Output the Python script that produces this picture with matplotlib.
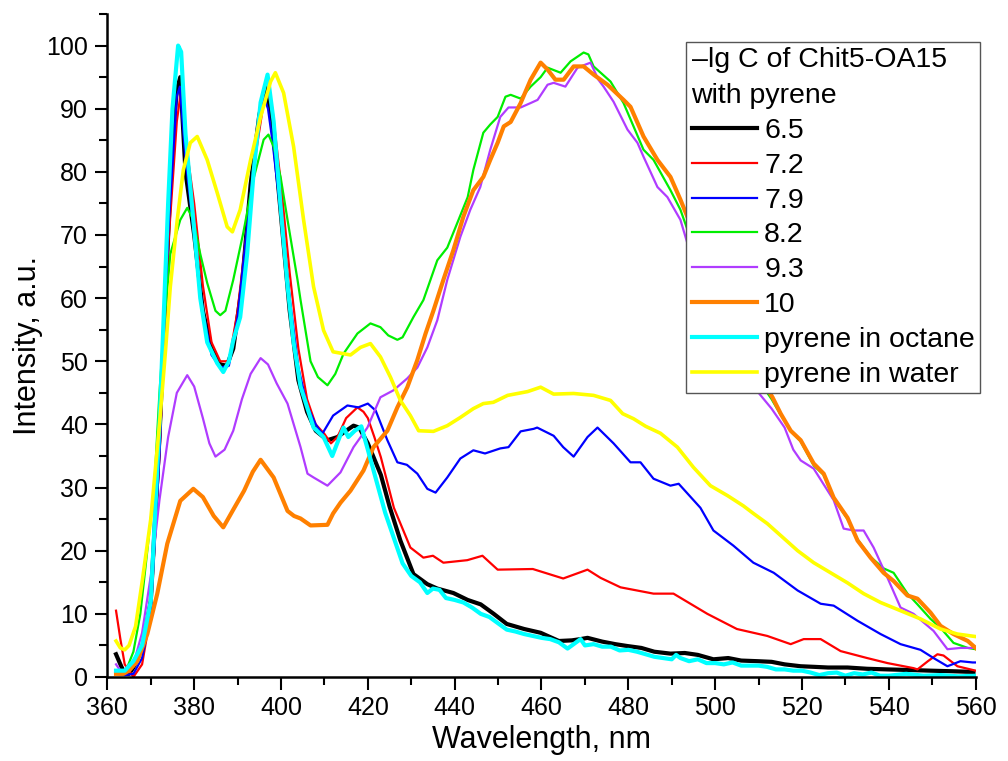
import matplotlib
matplotlib.use('Agg')
import matplotlib.pyplot as plt
from matplotlib.ticker import MultipleLocator

plt.rcParams['font.family'] = ['Liberation Sans', 'DejaVu Sans']

# -lg C = 6.5
wl_65 = [362, 363, 364, 365, 366, 368, 370, 372, 374, 375, 376, 376.8, 378, 380, 382, 384, 386, 387.5,
         389, 391, 393, 395, 396.5, 398, 400, 402, 404, 406, 408, 410.7, 413, 415, 416.7, 418, 420, 423,
         425, 427.5, 430.5, 433.7, 436, 439.7, 443, 446, 449, 452, 456, 459.8, 464, 467, 469, 470.6, 474,
         477, 479.8, 483, 486, 489.7, 493, 496, 499.6, 503, 506, 509.8, 513, 516, 519.7, 523, 526, 530.5,
         535, 539.7, 545, 549.6, 555, 559.5]
int_65 = [3.6, 2.0, 0.5, 0.5, 1.5, 4.5, 12, 38, 70, 85, 93, 95, 80, 70, 58, 52, 49.5, 49.3,
          52, 62, 78, 89, 93.5, 88, 73, 58, 47, 42, 39, 37.5, 38, 39, 39.8, 39.5, 37, 32,
          27, 21.6, 16.3, 14.7, 14, 13.3, 12.2, 11.5, 10, 8.4, 7.6, 7.0, 5.7, 5.8, 6.0, 6.2, 5.6,
          5.2, 4.9, 4.6, 4.0, 3.7, 3.8, 3.5, 2.8, 3.0, 2.6, 2.5, 2.4, 2.0, 1.7, 1.6, 1.5, 1.5,
          1.3, 1.2, 1.1, 1.0, 0.9, 0.8]

# -lg C = 7.2
wl_72 = [362, 363, 364, 366, 368, 370, 372, 374, 376, 377, 378, 380, 382, 384, 386, 388, 390, 392, 394,
         396, 397, 398, 400, 402, 404, 406, 408, 410, 411.5, 413, 415, 417.6, 419, 420, 421.5, 423, 426,
         429.8, 432.8, 435, 437.4, 442.9, 446.4, 449.9, 458, 465, 470.6, 473.6, 478.2, 485.8, 490.4,
         498.2, 505, 512, 517.4, 520.4, 524.3, 528.9, 535, 539.7, 545.7, 546.6, 549, 551.2, 552.6, 555.8,
         558.8, 560]
int_72 = [10.5, 6.0, 2.0, 0.0, 2.0, 10, 35, 68, 88, 93, 85, 75, 62, 53, 50, 50, 58, 70, 82,
          91, 92.5, 90, 78, 64, 52, 44, 40, 38.5, 37, 38, 41, 42.7, 42, 41, 38, 34.8, 26.8,
          20.5, 18.9, 19.2, 18.1, 18.5, 19.2, 17, 17.1, 15.6, 17, 15.7, 14.2, 13.2, 13.2,
          10, 7.6, 6.5, 5.2, 6.0, 6.0, 4.1, 3.0, 2.2, 1.4, 1.2, 2.5, 3.6, 3.4, 1.7,
          1.2, 1.0]

# -lg C = 7.9
wl_79 = [362, 364, 366, 368, 370, 372, 374, 376, 376.7, 378, 380, 382, 384, 386, 388, 390, 392, 394, 396,
         397, 398, 400, 402, 404, 406, 408, 409.5, 412, 415.3, 417.8, 420, 421.8, 424.5, 426.8, 429,
         431.4, 433.7, 435.6, 438.3, 441.3, 444.3, 447, 450.5, 452.4, 455.2, 458.2, 459, 462.8, 465,
         467.4, 470.6, 472.9, 476.6, 480.5, 482.8, 485.8, 489.7, 491.6, 496.6, 499.6, 504.2, 508.8,
         513.5, 519, 524.3, 527.3, 532.8, 538.1, 542.7, 547.3, 550.3, 553.5, 556.5, 559.3, 560]
int_79 = [0.5, 0.3, 0.5, 3, 10, 35, 70, 92, 93.5, 82, 70, 58, 51, 49, 49.3, 57, 70, 83, 92,
          90, 85, 73, 60, 49, 43, 40, 38.5, 41.4, 43, 42.7, 43.3, 42.2, 37.5, 34, 33.6,
          32.2, 29.8, 29.2, 31.6, 34.6, 35.9, 35.4, 36.2, 36.4, 38.9, 39.3, 39.5, 38.2, 36.4,
          34.9, 38, 39.5, 37, 34, 34, 31.4, 30.3, 30.6, 26.8, 23.2, 20.8, 18.1,
          16.5, 13.7, 11.6, 11.3, 8.9, 6.8, 5.2, 4.3, 3.0, 1.7, 2.5, 2.3, 2.3]

# -lg C = 8.2
wl_82 = [362, 364, 366, 367.6, 369.2, 370.8, 372, 373, 374.5, 376.8, 378.4, 379.8, 381.4, 383, 384.9,
         386, 387.2, 389, 391.3, 393.6, 396, 397.1, 398.3, 399.9, 401.5, 403.8, 404.5, 406.8, 408.5,
         410.7, 412.5, 414.4, 417.6, 420.6, 422.9, 424.7, 426.8, 428, 430.5, 432.8, 436, 438.3, 440.6,
         443, 444.3, 446.6, 448.2, 449.9, 451.7, 452.9, 455.2, 457.5, 459.8, 461.4, 464.4, 466.7,
         469.7, 470.8, 472, 475.9, 478.9, 481.2, 483.5, 485.8, 489.7, 492, 493.9, 498, 502, 506, 510,
         513, 515.1, 517.4, 519.7, 522.7, 525, 527.3, 530.5, 532.8, 535.8, 538.8, 541.1, 544.3, 546.6,
         549.6, 551.9, 554.9, 558.2, 560]
int_82 = [1.0, 0.5, 4, 10, 20, 30, 45, 55, 67, 72.4, 74.3, 72.4, 67, 62.4, 58,
          57.3, 58, 62.9, 70.3, 78.7, 85.1, 85.9, 84, 79.2, 72.4, 62.9, 59.7, 50, 47.5,
          46.2, 48, 51.2, 54.4, 56, 55.4, 54.1, 53.4, 53.8, 57, 59.7, 66, 68, 71.9,
          76, 80.3, 86.2, 87.5, 88.7, 91.9, 92.2, 91.6, 93.5, 95, 96.5, 95.7, 97.5,
          98.9, 98.6, 96.7, 94.3, 90.9, 87.2, 83.5, 81.9, 77.1, 74, 70.3, 64, 58, 52, 47,
          44, 41.5, 39, 37.3, 33.5, 32, 28.3, 25, 21.8, 19, 17.2, 16.5, 13.2, 11.5,
          9.2, 7.8, 5.4, 4.6, 4.4]

# -lg C = 9.3
wl_93 = [362, 363, 364, 366, 368, 370, 372, 374, 376, 378.4, 380, 382, 383.5, 384.9, 387, 389, 391, 393,
         395.3, 397, 399, 401.5, 404.5, 406.1, 407.5, 410.7, 413.7, 416.7, 419.9, 422.9, 425.9, 429.1,
         431.4, 433.7, 436, 438.3, 441.3, 443.6, 445.9, 448.2, 450.5, 452.4, 455.2, 457.5, 459.1, 461.4,
         462.8, 465.5, 468.3, 471.3, 473.1, 474.3, 476.6, 479.8, 482.1, 483.5, 486.7, 489, 492, 493.9,
         498, 502, 506, 510, 513, 516, 518, 519.7, 522.7, 527.3, 529.6, 531.9, 534.2, 536.5, 539.7,
         542.7, 545.7, 550.3, 553.5, 556.5, 559.3, 560]
int_93 = [2.0, 1.0, 0.5, 2, 7, 16, 28, 38, 45, 47.8, 46, 41, 37, 34.9, 36, 39, 44, 48,
          50.5, 49.5, 46.5, 43.3, 36.4, 32.2, 31.6, 30.3, 32.4, 36.4, 39.5, 44.3, 45.4, 47.3,
          49, 52.2, 56.5, 62.9, 69.7, 74, 77.6, 83.5, 88.7, 90.2, 90.2, 90.9, 91.4, 93.8,
          94.1, 93.5, 96.5, 97.3, 94.6, 93.5, 91.1, 86.7, 84.6, 82.4, 77.6, 76, 72.4, 68,
          62, 56, 50, 45, 42.5, 39.5, 36, 34.3, 33, 28, 23.5, 23.2, 23.2, 20.5, 15.7,
          11, 10, 7.3, 4.4, 4.6, 4.6, 4.8]

# -lg C = 10
wl_10 = [362, 363.7, 365, 366.9, 369.2, 371.5, 373.8, 376.8, 379.8, 382, 384.5, 386.7, 389, 391.5,
         393.5, 395.3, 398.3, 401.5, 403, 404.5, 406.8, 410.7, 412, 413.7, 416, 419, 421.3, 424.5,
         426.8, 429.1, 431.4, 433.3, 435.1, 437.4, 439.7, 442, 444.3, 446.6, 448.2, 449.9, 451.3,
         452.9, 455.2, 457.5, 459.8, 461.4, 463.2, 465.1, 467.4, 469.7, 472, 475.2, 478.9, 480.5,
         483.5, 486.7, 489.7, 492, 493.9, 498, 502, 506, 510, 513.2, 515.1, 517.4, 519.7, 522.7, 525,
         527.3, 530.5, 532.8, 535.8, 538.8, 541.1, 544.3, 546.6, 549.6, 551.9, 554.9, 558.2, 560]
int_10 = [0.5, 0.5, 1.0, 2.5, 6.8, 13.2, 21.1, 27.9, 29.8, 28.5, 25.5, 23.7, 26.5, 29.5,
          32.5, 34.4, 31.6, 26.3, 25.5, 25.1, 24, 24.1, 25.9, 27.6, 29.5, 32.7, 36.4, 39,
          42.7, 45.9, 50.2, 54.4, 58, 62.9, 67.6, 72.9, 77.1, 79.2, 81.9, 84.6, 87.2,
          87.9, 90.9, 94.6, 97.3, 96.2, 94.6, 94.6, 96.7, 96.7, 95.4, 93.8, 91.4, 90.3,
          85.6, 81.9, 79.2, 75.6, 72.4, 67, 61, 54, 48, 44.3, 41.7, 39, 37.5, 33.8, 32.2,
          28.4, 25.2, 21.6, 18.9, 16.5, 15.2, 12.9, 12.4, 10.2, 8.1, 6.8, 5.7, 4.6]

# pyrene in octane
wl_oct = [362, 364, 366, 368, 370, 372, 374, 375, 376.3, 377, 378, 379.8, 381.4, 383, 385.3, 386.7, 388,
          389, 390.6, 392.2, 393.7, 395.3, 396.9, 398.3, 399.9, 401.5, 402.9, 404.5, 407.5, 409.8, 411.8,
          413.5, 414.4, 415.5, 417, 418.5, 420, 422, 424, 426, 428, 430, 432, 433.7, 435, 436.5, 438,
          440, 442, 444, 446, 448, 450, 452, 454, 456, 458, 460, 462, 464, 466, 468, 469, 470, 472, 474,
          476, 478, 480, 482, 484, 486, 488, 490, 491, 492, 494, 496, 498, 500, 502, 504, 506, 508, 510,
          512, 514, 516, 518, 520, 522, 524, 526, 528, 530, 532, 534, 536, 538, 540, 544, 548, 552, 556,
          560]
int_oct = [1.0, 1.0, 2.5, 5, 12, 40, 75, 90, 100, 99, 86, 72.4, 60, 53, 49.7, 48.3, 50,
           53.3, 57, 67, 80, 91, 95.4, 88, 74.5, 62, 53, 46, 39.5, 38, 35,
           38, 39.5, 38, 39, 39.7, 36, 31, 26, 22, 18, 16, 15, 13.3, 14, 13.8, 12.5,
           12.2, 11.8, 11, 10, 9.5, 8.5, 7.5, 7.2, 6.8, 6.5, 6.2, 6.0, 5.5, 4.5, 5.5, 6, 5, 5.2, 4.8,
           4.8, 4.2, 4.3, 4.0, 3.6, 3.2, 3.0, 2.8, 3.5, 3.0, 2.5, 2.8, 2.2, 2.2, 2.0, 2.3, 1.8, 1.8, 1.8,
           1.6, 1.2, 1.2, 1.0, 1.0, 0.7, 0.3, 0.6, 0.7, 0.2, 0.6, 0.4, 0.7, 0.2, 0.2, 0.5, 0.2, 0.3, 0.1,
           0.2]

# pyrene in water
wl_wat = [362, 363, 364, 365, 366.5, 368, 370, 372, 373.4, 374.5, 376.1, 377.5, 379.1, 380.7, 383, 385.3,
          387.6, 388.8, 390.6, 393, 395.3, 397.6, 398.7, 400.6, 402.9, 405.2, 407.5, 409.8, 412, 416,
          418.3, 420.6, 422.9, 425.2, 427.5, 429.8, 431.7, 435.1, 438.3, 441.3, 444.3, 446.6, 448.9,
          452.2, 456.8, 459.8, 462.8, 467.4, 472, 475.9, 478.7, 481.2, 484, 487.4, 491.3, 495, 498.9,
          502.9, 506.5, 508.8, 512, 515.1, 519, 522.7, 526.6, 530.5, 534.2, 538.1, 542.7, 547.3, 551.9,
          555.8, 560]
int_wat = [5.7, 4.6, 4.3, 5, 8, 15, 25, 40, 51.7, 61.8, 72.4, 80.3, 84.6, 85.6, 81.9, 76.7,
           71.3, 70.5, 74, 81.9, 88.7, 94.3, 95.7, 92.5, 84, 72.4, 61.8, 54.9, 51.5, 51,
           52.2, 52.8, 50.7, 47.5, 43.8, 41.4, 39, 38.9, 39.8, 41.1, 42.5, 43.3, 43.5,
           44.6, 45.2, 45.9, 44.8, 44.9, 44.6, 43.8, 41.7, 40.9, 39.7, 38.6, 36.4, 33.2, 30.3,
           28.7, 27.1, 25.9, 24.3, 22.4, 20, 18.1, 16.5, 14.9, 13.2, 11.8, 10.5, 9.2, 7.6,
           6.8, 6.4]

series = [
    (wl_65, int_65, '6.5', 'black', 3.0),
    (wl_72, int_72, '7.2', '#ff0000', 1.6),
    (wl_79, int_79, '7.9', '#0000ff', 1.6),
    (wl_82, int_82, '8.2', '#00ee00', 1.6),
    (wl_93, int_93, '9.3', '#b03cff', 1.6),
    (wl_10, int_10, '10', '#ff8000', 3.0),
    (wl_oct, int_oct, 'pyrene in octane', '#00ffff', 3.0),
    (wl_wat, int_wat, 'pyrene in water', '#ffff00', 2.6),
]

fig = plt.figure(figsize=(10.08, 7.61), dpi=100)
ax = fig.add_axes([0.1065, 0.1104, 0.8614, 0.8712])

for wl, vals, name, col, lw in series:
    ax.plot(wl, vals, color=col, lw=lw, label=name, solid_joinstyle='round')

ax.set_xlim(360, 560)
ax.set_ylim(0, 105)
ax.xaxis.set_major_locator(MultipleLocator(20))
ax.xaxis.set_minor_locator(MultipleLocator(10))
ax.yaxis.set_minor_locator(MultipleLocator(5))
ax.set_yticks(range(0, 101, 10))

for side in ['top', 'right']:
    ax.spines[side].set_visible(False)
for side in ['left', 'bottom']:
    ax.spines[side].set_linewidth(1.8)

ax.tick_params(which='major', direction='out', length=9, width=1.5, labelsize=18, pad=5)
ax.tick_params(which='minor', direction='out', length=5.5, width=1.5)

ax.set_xlabel('Wavelength, nm', fontsize=22, labelpad=3)
ax.set_ylabel('Intensity, a.u.', fontsize=22, labelpad=2)

leg = ax.legend(loc='upper right', bbox_to_anchor=(980 / 1008, 1 - 42 / 761),
                bbox_transform=fig.transFigure, borderaxespad=0,
                title='\u2013lg C of Chit5-OA15\nwith pyrene', title_fontsize=20.5,
                fontsize=20.5, alignment='left', fancybox=False, framealpha=1,
                edgecolor='#555555', handlelength=2.3, handletextpad=0.25,
                labelspacing=0.31, borderpad=0.18)
leg.get_title().set_linespacing(1.5)
leg.get_frame().set_linewidth(1.0)

fig.savefig('out.png', dpi=100, facecolor='white')
